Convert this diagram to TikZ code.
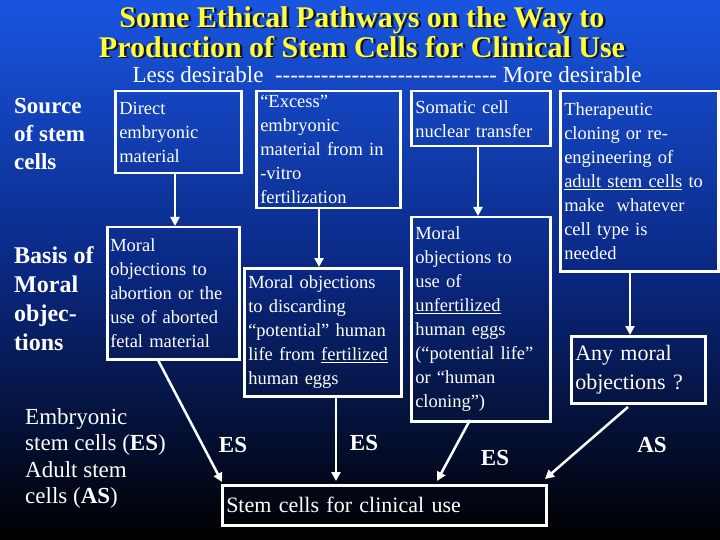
\documentclass[tikz,border=0pt]{standalone}
\usepackage{fontspec}
\setmainfont{Liberation Serif}
\usetikzlibrary{arrows.meta}
\begin{document}
\begin{tikzpicture}[x=1pt,y=-1pt,
  bx/.style={draw=white,line width=2.5pt,anchor=north west,align=left,text=white,inner sep=4pt,font=\fontsize{18.5}{24}\selectfont},
  lbl/.style={anchor=north west,align=left,text=white,inner sep=0pt},
  arr/.style={draw=white,line width=2.5pt,-{Triangle[length=9pt,width=9pt]}},
  es/.style={text=white,font=\fontsize{23}{26}\selectfont\bfseries}]
\useasboundingbox (0,0) rectangle (720,540);
\shade[top color={rgb,255:red,25;green,85;blue,225}, bottom color=black, middle color={rgb,255:red,10;green,40;blue,130}] (0,0) rectangle (720,540);
% title
\node[text={rgb,255:red,20;green,20;blue,40},font=\fontsize{30}{30}\selectfont\bfseries,align=center] at (364.5,33.5) {Some Ethical Pathways on the Way to\\Production of Stem Cells for Clinical Use};
\node (title)[text={rgb,255:red,255;green,255;blue,60},font=\fontsize{30}{30}\selectfont\bfseries,align=center] at (362,32) {Some Ethical Pathways on the Way to\\Production of Stem Cells for Clinical Use};
\node (scale)[text=white,font=\fontsize{23}{26}\selectfont] at (387,75) {Less desirable\ \ {-}{-}{-}{-}{-}{-}{-}{-}{-}{-}{-}{-}{-}{-}{-}{-}{-}{-}{-}{-}{-}{-}{-}{-}{-}{-}{-}{-}{-}\ More desirable};
% left labels
\node (src)[lbl,font=\fontsize{23}{28}\selectfont\bfseries] at (14,98) {Source\\of stem\\cells};
\node (basis)[lbl,font=\fontsize{24}{29}\selectfont\bfseries] at (14,246) {Basis of\\Moral\\objec-\\tions};
\node (leg)[lbl,font=\fontsize{23}{26.5}\selectfont] at (25,408) {Embryonic\\stem cells (\textbf{ES})\\Adult stem\\cells (\textbf{AS})};
% boxes
\node (b1)[bx,text width=118pt,minimum height=82pt] at (114,90) {Direct\\embryonic\\material};
\node (b2)[bx,text width=136pt] at (255,90) {“Excess”\\embryonic\\material from in\\-vitro\\fertilization};
\node (b3)[bx,text width=131pt,minimum height=55pt] at (410,90) {Somatic cell\\nuclear transfer};
\node (b4)[bx,text width=150pt,minimum height=180pt] at (559,90) {Therapeutic\\cloning or re-\\engineering of\\\underline{adult stem cells} to\\make\ \ whatever\\cell type is\\needed};
\node (b5)[bx,text width=126pt,minimum height=132pt,inner sep=3pt] at (106,226) {Moral\\objections to\\abortion or the\\use of aborted\\fetal material};
\node (b6)[bx,text width=149pt,minimum height=128pt] at (243,267) {Moral objections\\to discarding\\“potential” human\\\mbox{life from \underline{fertilized}}\\human eggs};
\node (b7)[bx,text width=131pt,minimum height=204pt] at (410,216) {Moral\\objections to\\use of\\\underline{unfertilized}\\human eggs\\(“potential life”\\or “human\\cloning”)};
\node (b8)[bx,text width=126pt,minimum height=67pt,font=\fontsize{22}{29}\selectfont] at (570,335) {Any moral\\objections ?};
\node (b9)[bx,text width=316pt,minimum height=40pt,font=\fontsize{22}{26}\selectfont] at (221,484) {Stem cells for clinical use};
% arrows
\draw[arr] (b1.south -| 175,0) -- (b5.north -| 175,0);
\draw[arr] (b2.south -| 319,0) -- (b6.north -| 319,0);
\draw[arr] (b3.south -| 478,0) -- (b7.north -| 478,0);
\draw[arr] (b4.south -| 630,0) -- (b8.north -| 630,0);
\coordinate (e1) at (222,482);
\coordinate (e2) at (336,481);
\coordinate (e3) at (437,481);
\coordinate (e4) at (545,479);
\draw[arr] (158,360) -- (e1);
\draw[arr] (b6.south -| 336,0) -- (e2);
\draw[arr] (470,420) -- (e3);
\draw[arr] (628,407) -- (e4);
% labels
\node (es1)[es] at (233,445) {ES};
\node (es2)[es] at (364,443) {ES};
\node (es3)[es] at (495,458) {ES};
\node (as1)[es] at (652,445) {AS};
\end{tikzpicture}
\end{document}
